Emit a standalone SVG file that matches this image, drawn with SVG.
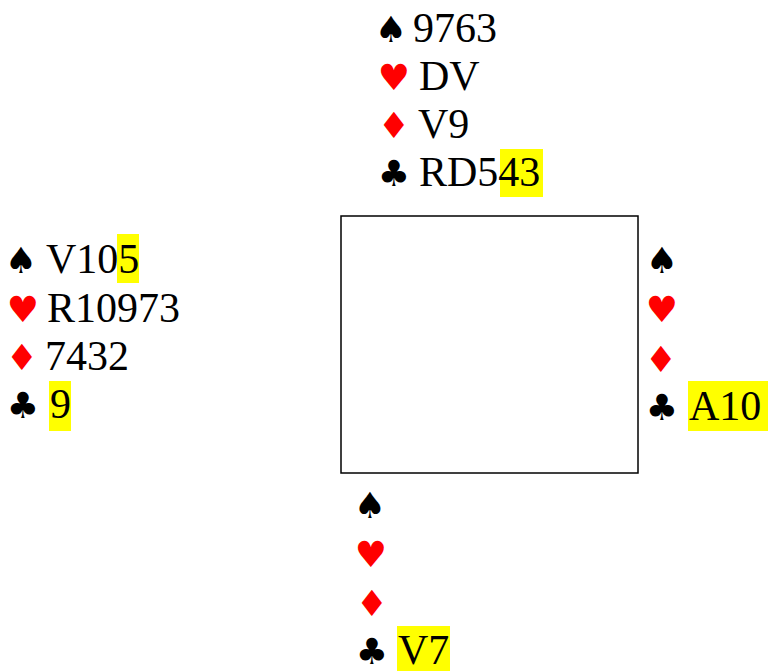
<svg xmlns="http://www.w3.org/2000/svg" width="768" height="671" viewBox="0 0 768 671">
<style>
.t{font-family:"Liberation Serif","Times New Roman",serif;font-size:42px;fill:#000}
.s{font-family:"DejaVu Sans",sans-serif;font-size:36px;text-anchor:middle}
.b{fill:#000}.r{fill:#ff0000}
.hl{fill:#ffff00}
</style>
<rect width="768" height="671" fill="#fff"/>
<g id="table"><rect x="341" y="216" width="297" height="257" fill="none" stroke="#000" stroke-width="1.5"/></g>
<g id="north">
<rect class="hl" x="500" y="149" width="43" height="48"/>
<text class="s b" x="391" y="42">♠</text><text class="t" x="413" y="42">9763</text>
<text class="s r" x="394" y="90">♥</text><text class="t" x="419" y="90">DV</text>
<text class="s r" x="394" y="138">♦</text><text class="t" x="418" y="138">V9</text>
<text class="s b" x="394" y="186">♣</text><text class="t" x="419" y="186">RD543</text>
</g>
<g id="west">
<rect class="hl" x="117" y="234" width="22" height="49"/>
<rect class="hl" x="49" y="381" width="22" height="50"/>
<text class="s b" x="21" y="273">♠</text><text class="t" x="46" y="273">V105</text>
<text class="s r" x="23" y="322">♥</text><text class="t" x="47" y="322">R10973</text>
<text class="s r" x="22" y="370">♦</text><text class="t" x="45" y="370">7432</text>
<text class="s b" x="23" y="418">♣</text><text class="t" x="50" y="418">9</text>
</g>
<g id="east">
<rect class="hl" x="688" y="381" width="80" height="50"/>
<text class="s b" x="662" y="273">♠</text>
<text class="s r" x="662" y="322">♥</text>
<text class="s r" x="661" y="372">♦</text>
<text class="s b" x="662" y="420">♣</text><text class="t" x="689" y="420">A10</text>
</g>
<g id="south">
<rect class="hl" x="397" y="626" width="53" height="45"/>
<text class="s b" x="370" y="518">♠</text>
<text class="s r" x="371" y="567">♥</text>
<text class="s r" x="372" y="616">♦</text>
<text class="s b" x="372" y="664">♣</text><text class="t" x="398" y="664">V7</text>
</g>
<g id="connectors"/>
</svg>
